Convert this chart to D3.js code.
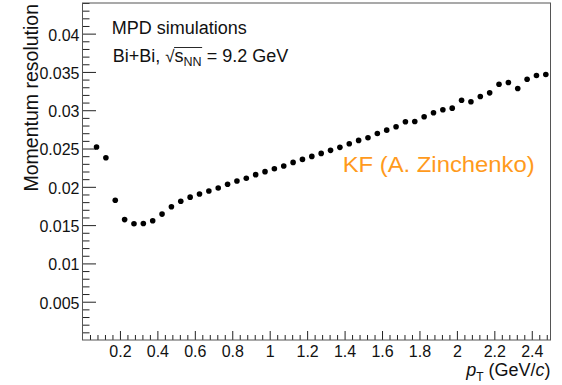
<!DOCTYPE html>
<html>
<head>
<meta charset="utf-8">
<script src="https://cdn.jsdelivr.net/npm/d3@7"></script>
<style>
  body { margin: 0; background: #fff; }
  svg { display: block; font-family: "Liberation Sans", Arial, Helvetica, sans-serif; }
</style>
</head>
<body>
<div id="chart"></div>
<script>
// pT bin centres (GeV/c) and momentum resolution
const ptValues = [0.075, 0.125, 0.175, 0.225, 0.275, 0.325, 0.375, 0.425, 0.475, 0.525,
  0.575, 0.625, 0.675, 0.725, 0.775, 0.825, 0.875, 0.925, 0.975, 1.025,
  1.075, 1.125, 1.175, 1.225, 1.275, 1.325, 1.375, 1.425, 1.475, 1.525,
  1.575, 1.625, 1.675, 1.725, 1.775, 1.825, 1.875, 1.925, 1.975, 2.025,
  2.075, 2.125, 2.175, 2.225, 2.275, 2.325, 2.375, 2.425, 2.475];
const resolution = [0.02519, 0.0238, 0.01824, 0.01572, 0.01518, 0.01522, 0.01557, 0.01644, 0.0174, 0.01811,
  0.01865, 0.01906, 0.01946, 0.01984, 0.02033, 0.02076, 0.02111, 0.02159, 0.02198, 0.02236,
  0.02271, 0.02319, 0.02358, 0.02397, 0.02436, 0.02476, 0.02515, 0.02563, 0.02606, 0.02641,
  0.02697, 0.0274, 0.02784, 0.0285, 0.02853, 0.02915, 0.02967, 0.03006, 0.03027, 0.03131,
  0.0311, 0.03179, 0.03227, 0.03339, 0.03362, 0.03283, 0.03405, 0.03453, 0.03466];

const xTicks = [0.2, 0.4, 0.6, 0.8, 1, 1.2, 1.4, 1.6, 1.8, 2, 2.2, 2.4];
const yTicks = [0.005, 0.01, 0.015, 0.02, 0.025, 0.03, 0.035, 0.04];
const xMinor = d3.range(0.04, 2.5, 0.04).filter(v => Math.abs(v / 0.2 - Math.round(v / 0.2)) > 1e-6);
const yMinor = d3.range(0.001, 0.0441, 0.001).filter(v => Math.abs(v / 0.005 - Math.round(v / 0.005)) > 1e-6);

const width = 562, height = 385;
const frame = { left: 82.5, right: 550.5, top: 3, bottom: 340 };

const x = d3.scaleLinear().domain([0, 2.5]).range([frame.left, frame.right]);
const y = d3.scaleLinear().domain([0, 0.044]).range([frame.bottom, frame.top]);

const svg = d3.select('#chart')
  .append('svg')
  .attr('width', width)
  .attr('height', height);

// y axis
svg.append('g')
  .attr('transform', `translate(${frame.left},0)`)
  .call(d3.axisLeft(y).tickValues(yTicks).tickSize(-13.5).tickSizeOuter(0).tickPadding(3)
    .tickFormat(d => String(+d.toFixed(3))))
  .call(g => g.select('.domain').remove())
  .call(g => g.selectAll('text').attr('dy', '0.4em').style('font-size', '16px').attr('fill', '#111'))
  .call(g => g.selectAll('line').attr('stroke', '#222'));

svg.append('g')
  .attr('transform', `translate(${frame.left},0)`)
  .call(d3.axisLeft(y).tickValues(yMinor).tickSize(-7).tickSizeOuter(0).tickFormat(''))
  .call(g => g.select('.domain').remove())
  .call(g => g.selectAll('line').attr('stroke', '#222'));

// x axis
svg.append('g')
  .attr('transform', `translate(0,${frame.bottom})`)
  .call(d3.axisBottom(x).tickValues(xTicks).tickSize(-9).tickSizeOuter(0).tickPadding(5.5)
    .tickFormat(d => String(+d.toFixed(1))))
  .call(g => g.select('.domain').remove())
  .call(g => g.selectAll('text').style('font-size', '16px').attr('fill', '#111'))
  .call(g => g.selectAll('line').attr('stroke', '#222'));

svg.append('g')
  .attr('transform', `translate(0,${frame.bottom})`)
  .call(d3.axisBottom(x).tickValues(xMinor).tickSize(-5).tickSizeOuter(0).tickFormat(''))
  .call(g => g.select('.domain').remove())
  .call(g => g.selectAll('line').attr('stroke', '#222'));

// frame
svg.append('rect')
  .attr('x', frame.left)
  .attr('y', frame.top)
  .attr('width', frame.right - frame.left)
  .attr('height', frame.bottom - frame.top)
  .attr('fill', 'none')
  .attr('stroke', '#555')
  .attr('stroke-width', 1);

// data points
svg.append('g')
  .selectAll('circle')
  .data(ptValues.map((p, i) => ({ p, r: resolution[i] })))
  .enter()
  .append('circle')
  .attr('cx', d => x(d.p))
  .attr('cy', d => y(d.r))
  .attr('r', 2.8)
  .attr('fill', '#000');

// axis titles
const xTitle = svg.append('text')
  .attr('x', frame.right)
  .attr('y', 376)
  .attr('text-anchor', 'end')
  .style('font-size', '18px')
  .attr('fill', '#111');
xTitle.append('tspan').style('font-style', 'italic').text('p');
xTitle.append('tspan').attr('dy', 4.5).style('font-size', '12px').text('T');
xTitle.append('tspan').attr('dy', -4.5).text(' (GeV/');
xTitle.append('tspan').style('font-style', 'italic').text('c');
xTitle.append('tspan').text(')');

svg.append('text')
  .attr('transform', 'translate(38,4) rotate(-90)')
  .attr('text-anchor', 'end')
  .style('font-size', '19.5px')
  .attr('fill', '#111')
  .text('Momentum resolution');

// header labels
svg.append('text')
  .attr('x', 111.7)
  .attr('y', 34.3)
  .style('font-size', '18px')
  .attr('fill', '#111')
  .text('MPD simulations');

const line2 = svg.append('text')
  .attr('x', 112.7)
  .attr('y', 62)
  .style('font-size', '18px')
  .attr('fill', '#111');
line2.append('tspan').text('Bi+Bi, ');
line2.append('tspan').style('font-size', '17px').text('\u221A');
line2.append('tspan').text('s');
line2.append('tspan').attr('dy', 4).style('font-size', '12.5px').text('NN');
line2.append('tspan').attr('dy', -4).text(' = 9.2 GeV');

// overline of the square root, from radical top to end of "NN"
const node = line2.node();
const rootIdx = 'Bi+Bi, '.length;
const nnEnd = rootIdx + 1 + 1 + 2 - 1;
const x0 = node.getEndPositionOfChar(rootIdx).x - 0.5;
const x1 = node.getEndPositionOfChar(nnEnd).x + 0.5;
svg.append('line')
  .attr('x1', x0).attr('x2', x1)
  .attr('y1', 47.5).attr('y2', 47.5)
  .attr('stroke', '#111')
  .attr('stroke-width', 0.9);

svg.append('text')
  .attr('x', 342.7)
  .attr('y', 172)
  .style('font-size', '22px')
  .attr('fill', '#ff9a1c')
  .attr('textLength', 192)
  .attr('lengthAdjust', 'spacingAndGlyphs')
  .text('KF (A. Zinchenko)');
</script>
</body>
</html>
